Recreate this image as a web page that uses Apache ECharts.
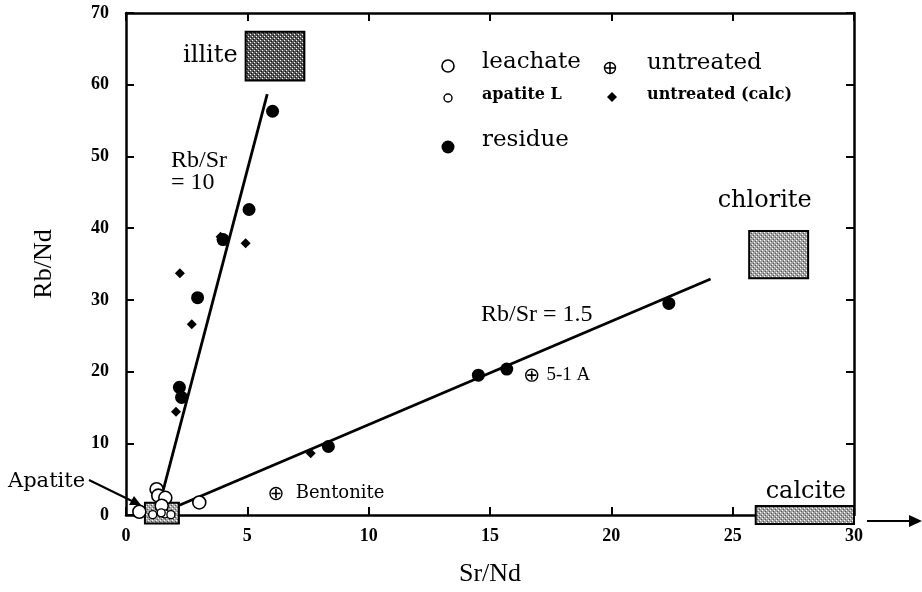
<!DOCTYPE html>
<html>
<head>
<meta charset="utf-8">
<script src="https://cdn.jsdelivr.net/npm/echarts@6/dist/echarts.min.js"></script>
<style>
  html, body { margin: 0; padding: 0; background: #fff; }
  #chart { width: 922px; height: 592px; }
</style>
</head>
<body>
<div id="chart"></div>
<script>
// Sr/Nd (x) vs Rb/Nd (y) ratios
const residue = [
  [6.04, 56.3], [5.07, 42.6], [4.0, 38.4], [2.95, 30.3], [2.20, 17.8],
  [2.29, 16.4], [8.34, 9.55], [14.52, 19.5], [15.69, 20.35], [22.37, 29.5]
];
const untreatedCalc = [
  [3.9, 38.8], [4.93, 37.9], [2.22, 33.7], [2.71, 26.6], [2.06, 14.4], [7.61, 8.6]
];
const untreatedNames = ['5-1 A', 'Bentonite'];
const untreatedValues = [[16.72, 19.5], [6.18, 3.0]];
const leachate = [
  [1.26, 3.6], [1.33, 2.7], [1.62, 2.4], [1.47, 1.3], [0.55, 0.45], [3.02, 1.75]
];
const apatiteL = [[1.10, 0.05], [1.60, 0.15], [1.85, 0.05], [1.45, 0.3]];

// reference lines
const lineRbSr10 = [[1.52, 3.3], [5.82, 58.7]];
const lineRbSr15 = [[2.15, 1.3], [24.09, 32.9]];

// mineral fields: [xMin, yMin, xMax, yMax]
const fieldNames = ['illite', 'chlorite', 'calcite', 'apatite'];
const fieldBounds = [
  [4.93, 60.6, 7.35, 67.4],
  [25.68, 33.0, 28.11, 39.6],
  [25.95, -1.25, 30.0, 1.25],
  [0.78, -1.2, 2.18, 1.7]
];

const xTicks = { min: 0, max: 30, step: 5 };
const yTicks = { min: 0, max: 70, step: 10 };

// halftone-like fills for the mineral fields
function halftone(base, dots) {
  const c = document.createElement('canvas');
  c.width = 4; c.height = 4;
  const g = c.getContext('2d');
  g.fillStyle = base; g.fillRect(0, 0, 4, 4);
  g.fillStyle = '#fff';
  [[0, 0], [2, 2]].forEach(p => g.fillRect(p[0], p[1], 1, 1));
  g.fillStyle = dots;
  [[1, 3], [3, 1]].forEach(p => g.fillRect(p[0], p[1], 1, 1));
  return { image: c, repeat: 'repeat' };
}
const fieldStyle = {
  illite:   { fill: halftone('#5a5a5a', '#111'), label: 'left',  dx: -8, dy: 0 },
  chlorite: { fill: halftone('#a2a2a2', '#555'), label: 'top',   dx: -14, dy: -30 },
  calcite:  { fill: halftone('#a2a2a2', '#555'), label: 'top',   dx: 1, dy: -14 },
  apatite:  { fill: halftone('#a8a8a8', '#555'), label: null }
};

const serif = 'DejaVu Serif';
const times = 'Liberation Serif';

const untreatedLabel = {
  '5-1 A':     { fontFamily: times, fontSize: 19, distance: 8 },
  'Bentonite': { fontFamily: serif, fontSize: 18, distance: 13 }
};

// plus sign drawn as two bars, laid over a ringed circle
const plusPath = 'path://M-6,-1.1L6,-1.1L6,1.1L-6,1.1Z M-1.1,-6L1.1,-6L1.1,6L-1.1,6Z';

const chart = echarts.init(document.getElementById('chart'), null, { renderer: 'canvas' });

const axisCommon = {
  type: 'value',
  splitLine: { show: false },
  axisLine: { show: true, onZero: false, lineStyle: { color: '#000', width: 2.5 } },
  axisTick: { show: true, inside: true, length: 8, lineStyle: { color: '#000', width: 2 } }
};
const tickFont = { color: '#000', fontFamily: times, fontWeight: 'bold', fontSize: 18 };

const option = {
  backgroundColor: '#fff',
  animation: false,
  grid: { left: 126, right: 68, top: 13, bottom: 71, containLabel: false },
  xAxis: [
    Object.assign({}, axisCommon, {
      min: xTicks.min, max: xTicks.max, interval: xTicks.step, position: 'bottom',
      name: 'Sr/Nd', nameLocation: 'middle', nameGap: 46,
      nameTextStyle: { color: '#000', fontFamily: times, fontSize: 26 },
      axisLabel: Object.assign({ margin: 12 }, tickFont)
    }),
    Object.assign({}, axisCommon, {
      min: xTicks.min, max: xTicks.max, interval: xTicks.step, position: 'top',
      axisLabel: { show: false }
    })
  ],
  yAxis: [
    Object.assign({}, axisCommon, {
      min: yTicks.min, max: yTicks.max, interval: yTicks.step, position: 'left',
      name: 'Rb/Nd', nameLocation: 'middle', nameGap: 69,
      nameTextStyle: { color: '#000', fontFamily: times, fontSize: 26 },
      axisLabel: Object.assign({ margin: 17 }, tickFont)
    }),
    Object.assign({}, axisCommon, {
      min: yTicks.min, max: yTicks.max, interval: yTicks.step, position: 'right',
      axisLabel: { show: false }
    })
  ],
  series: [
    {
      type: 'custom',
      name: 'fields',
      clip: false,
      z: 3,
      data: fieldBounds.map((b, i) => ({ name: fieldNames[i], value: b })),
      renderItem: function (params, api) {
        const name = fieldNames[params.dataIndex];
        const st = fieldStyle[name];
        const p0 = api.coord([api.value(0), api.value(3)]);
        const p1 = api.coord([api.value(2), api.value(1)]);
        const children = [{
          type: 'rect',
          shape: { x: p0[0], y: p0[1], width: p1[0] - p0[0], height: p1[1] - p0[1] },
          style: { fill: st.fill, stroke: '#000', lineWidth: 2 }
        }];
        if (st.label) {
          let tx, ty, align, va;
          if (st.label === 'left') {
            tx = p0[0] + st.dx; ty = (p0[1] + p1[1]) / 2 + st.dy; align = 'right'; va = 'middle';
          } else {
            tx = (p0[0] + p1[0]) / 2 + st.dx; ty = p0[1] + st.dy; align = 'center'; va = 'middle';
          }
          children.push({
            type: 'text',
            style: { x: tx, y: ty, text: name, align: align, verticalAlign: va,
                     font: '24px "' + serif + '"', fill: '#000' }
          });
        }
        return { type: 'group', children: children };
      }
    },
    {
      type: 'line', name: 'Rb/Sr = 10', data: lineRbSr10, symbol: 'none', z: 4,
      lineStyle: { color: '#000', width: 2.8 }
    },
    {
      type: 'line', name: 'Rb/Sr = 1.5', data: lineRbSr15, symbol: 'none', z: 4,
      lineStyle: { color: '#000', width: 2.8 }
    },
    {
      type: 'scatter', name: 'leachate', data: leachate, symbol: 'circle', symbolSize: 13,
      clip: false, z: 5,
      itemStyle: { color: '#fff', borderColor: '#000', borderWidth: 1.6, opacity: 1 }
    },
    {
      type: 'scatter', name: 'apatite L', data: apatiteL, symbol: 'circle', symbolSize: 8,
      clip: false, z: 6,
      itemStyle: { color: '#fff', borderColor: '#000', borderWidth: 1.4, opacity: 1 }
    },
    {
      type: 'scatter', name: 'untreated (calc)', data: untreatedCalc, symbol: 'diamond', symbolSize: 10,
      clip: false, z: 5,
      itemStyle: { color: '#000', opacity: 1 }
    },
    {
      type: 'scatter', name: 'residue', data: residue, symbol: 'circle', symbolSize: 13,
      clip: false, z: 6,
      itemStyle: { color: '#000', opacity: 1 }
    },
    {
      type: 'scatter', name: 'untreated', symbol: 'circle', symbolSize: 12,
      clip: false, z: 6,
      itemStyle: { color: '#fff', borderColor: '#000', borderWidth: 1.4, opacity: 1 },
      data: untreatedValues.map((v, i) => {
        const ls = untreatedLabel[untreatedNames[i]];
        return {
          name: untreatedNames[i], value: v,
          label: {
            show: true, position: 'right', formatter: '{b}', distance: ls.distance,
            color: '#000', fontFamily: ls.fontFamily, fontSize: ls.fontSize
          }
        };
      })
    },
    {
      type: 'scatter', name: 'untreated cross', data: untreatedValues, symbol: plusPath,
      symbolSize: 9, clip: false, z: 7, silent: true,
      itemStyle: { color: '#000', opacity: 1 }
    }
  ],
  graphic: [
    // legend
    { type: 'circle', shape: { cx: 448, cy: 66, r: 6 }, style: { fill: '#fff', stroke: '#000', lineWidth: 1.6 }, z: 10 },
    { type: 'text', left: 482, top: 51, style: { text: 'leachate', font: '23px "DejaVu Serif"', fill: '#000' }, z: 10 },
    { type: 'circle', shape: { cx: 610, cy: 68, r: 5.5 }, style: { fill: '#fff', stroke: '#000', lineWidth: 1.4 }, z: 10 },
    { type: 'line', shape: { x1: 605, y1: 68, x2: 615, y2: 68 }, style: { stroke: '#000', lineWidth: 1.6 }, z: 11 },
    { type: 'line', shape: { x1: 610, y1: 63, x2: 610, y2: 73 }, style: { stroke: '#000', lineWidth: 1.6 }, z: 11 },
    { type: 'text', left: 647, top: 52, style: { text: 'untreated', font: '23px "DejaVu Serif"', fill: '#000' }, z: 10 },
    { type: 'circle', shape: { cx: 448, cy: 98, r: 4 }, style: { fill: '#fff', stroke: '#000', lineWidth: 1.4 }, z: 10 },
    { type: 'text', left: 482, top: 87, style: { text: 'apatite L', font: 'bold 16px "DejaVu Serif"', fill: '#000' }, z: 10 },
    { type: 'polygon', shape: { points: [[612, 92], [617, 97], [612, 102], [607, 97]] }, style: { fill: '#000' }, z: 10 },
    { type: 'text', left: 647, top: 87, style: { text: 'untreated (calc)', font: 'bold 16px "DejaVu Serif"', fill: '#000' }, z: 10 },
    { type: 'circle', shape: { cx: 448, cy: 147, r: 6.5 }, style: { fill: '#000' }, z: 10 },
    { type: 'text', left: 482, top: 129, style: { text: 'residue', font: '23px "DejaVu Serif"', fill: '#000' }, z: 10 },
    // line annotations
    { type: 'text', left: 171, top: 149, style: { text: 'Rb/Sr\n= 10', font: '24px "Liberation Serif"', lineHeight: 22, fill: '#000' }, z: 10 },
    { type: 'text', left: 481, top: 303, style: { text: 'Rb/Sr = 1.5', font: '24px "Liberation Serif"', fill: '#000' }, z: 10 },
    // apatite pointer
    { type: 'text', left: 8, top: 471, style: { text: 'Apatite', font: '21px "DejaVu Serif"', fill: '#000' }, z: 10 },
    { type: 'line', shape: { x1: 89, y1: 480, x2: 134, y2: 502 }, style: { stroke: '#000', lineWidth: 2 }, z: 10 },
    { type: 'polygon', shape: { points: [[141, 505], [129, 505], [134, 496]] }, style: { fill: '#000' }, z: 10 },
    // calcite continues off-scale
    { type: 'line', shape: { x1: 867, y1: 521, x2: 912, y2: 521 }, style: { stroke: '#000', lineWidth: 2 }, z: 10 },
    { type: 'polygon', shape: { points: [[922, 521], [909, 515], [909, 527]] }, style: { fill: '#000' }, z: 10 }
  ]
};

chart.setOption(option);
</script>
</body>
</html>
